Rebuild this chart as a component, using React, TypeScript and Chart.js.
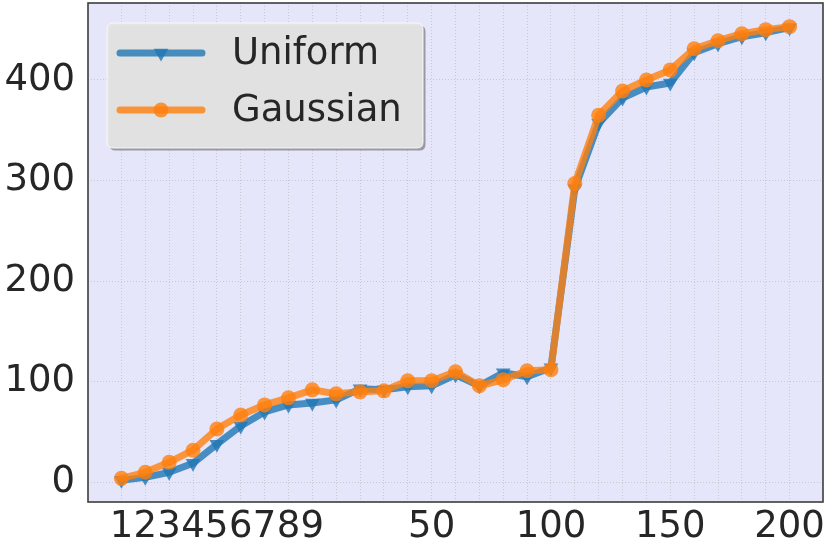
import React, { useEffect, useRef } from 'react';
import { Chart, registerables } from 'chart.js';

Chart.register(...registerables);

// ---- data ----
const categories = ['1', '2', '3', '4', '5', '6', '7', '8', '9', '10', '20', '30', '40', '50', '60', '70', '80', '90', '100', '110', '120', '130', '140', '150', '160', '170', '180', '190', '200'];
const shownTickLabels = ['1', '2', '3', '4', '5', '6', '7', '8', '9', '50', '100', '150', '200'];
const yTickValues = [0, 100, 200, 300, 400];
const seriesNames = ['Uniform', 'Gaussian'];
const uniformValues = [2, 5, 10, 19, 38, 56, 70, 77, 79, 82, 93, 92, 95, 96, 107, 96, 109, 105, 114, 292, 357, 382, 393, 397, 427, 436, 443, 447, 452];
const gaussianValues = [4, 10, 20, 32, 53, 67, 77, 84, 92, 88, 90, 91, 101, 101, 110, 96, 102, 111, 112, 297, 365, 389, 400, 410, 431, 439, 446, 450, 453];

const FONT = "'DejaVu Sans', 'Liberation Sans', sans-serif";
const TEXT = '#262626';
const BLUE = 'rgba(31,119,180,0.8)';
const ORANGE = 'rgba(255,127,14,0.8)';
const GRID = 'rgba(190,190,195,0.75)';

const decorPlugin = {
  id: 'decor',
  beforeDraw(chart: any) {
    const { ctx, chartArea: a } = chart;
    ctx.save();
    ctx.fillStyle = '#E6E6FA';
    ctx.fillRect(a.left, a.top, a.right - a.left, a.bottom - a.top);
    ctx.restore();
  },
  afterDatasetsDraw(chart: any) {
    const { ctx, chartArea: a } = chart;
    ctx.save();
    ctx.strokeStyle = '#3c3c3c';
    ctx.lineWidth = 1.6;
    ctx.strokeRect(a.left, a.top, a.right - a.left, a.bottom - a.top);
    ctx.restore();
  },
  afterDraw(chart: any) {
    const { ctx } = chart;
    const x0 = 107, y0 = 23, w = 316, h = 125, r = 6;
    const rr = (x: number, y: number) => {
      ctx.beginPath();
      ctx.moveTo(x + r, y);
      ctx.lineTo(x + w - r, y);
      ctx.quadraticCurveTo(x + w, y, x + w, y + r);
      ctx.lineTo(x + w, y + h - r);
      ctx.quadraticCurveTo(x + w, y + h, x + w - r, y + h);
      ctx.lineTo(x + r, y + h);
      ctx.quadraticCurveTo(x, y + h, x, y + h - r);
      ctx.lineTo(x, y + r);
      ctx.quadraticCurveTo(x, y, x + r, y);
      ctx.closePath();
    };
    ctx.save();
    rr(x0 + 2.5, y0 + 2.5);
    ctx.fillStyle = 'rgba(90,90,90,0.55)';
    ctx.fill();
    rr(x0, y0);
    ctx.fillStyle = 'rgba(229,229,229,0.95)';
    ctx.fill();
    ctx.strokeStyle = 'rgba(250,250,250,0.9)';
    ctx.lineWidth = 1;
    ctx.stroke();

    const datasets = chart.data.datasets;
    datasets.forEach((ds: any, i: number) => {
      const cy = 53 + i * 57;
      ctx.strokeStyle = ds.borderColor;
      ctx.lineWidth = 7;
      ctx.lineCap = 'round';
      ctx.beginPath();
      ctx.moveTo(120, cy);
      ctx.lineTo(202, cy);
      ctx.stroke();
      ctx.fillStyle = ds.pointBackgroundColor;
      ctx.beginPath();
      if (ds.pointStyle === 'triangle') {
        let rad = Math.PI;
        const R = ds.pointRadius;
        ctx.moveTo(161 + Math.sin(rad) * R, cy - Math.cos(rad) * R);
        rad += (2 * Math.PI) / 3;
        ctx.lineTo(161 + Math.sin(rad) * R, cy - Math.cos(rad) * R);
        rad += (2 * Math.PI) / 3;
        ctx.lineTo(161 + Math.sin(rad) * R, cy - Math.cos(rad) * R);
        ctx.closePath();
      } else {
        ctx.arc(161, cy, ds.pointRadius, 0, Math.PI * 2);
      }
      ctx.fill();
      ctx.fillStyle = TEXT;
      ctx.font = `37px ${FONT}`;
      ctx.textAlign = 'left';
      ctx.textBaseline = 'middle';
      ctx.fillText(ds.label, 232, cy + 1);
    });
    ctx.restore();
  },
};

export default function App() {
  const ref = useRef<HTMLCanvasElement>(null);
  useEffect(() => {
    document.body.style.margin = '0';
    const canvas = ref.current!;
    const chart = new Chart(canvas, {
      type: 'line',
      data: {
        datasets: [
          {
            label: seriesNames[0],
            data: uniformValues.map((v, i) => ({ x: i, y: v })),
            borderColor: BLUE,
            backgroundColor: BLUE,
            pointBackgroundColor: BLUE,
            pointBorderWidth: 0,
            pointStyle: 'triangle',
            pointRotation: 180,
            pointRadius: 8.5,
            borderWidth: 7,
            borderJoinStyle: 'round',
            borderCapStyle: 'round',
            tension: 0,
            order: 1,
          },
          {
            label: seriesNames[1],
            data: gaussianValues.map((v, i) => ({ x: i, y: v })),
            borderColor: ORANGE,
            backgroundColor: ORANGE,
            pointBackgroundColor: ORANGE,
            pointBorderWidth: 0,
            pointStyle: 'circle',
            pointRadius: 7.5,
            borderWidth: 7,
            borderJoinStyle: 'round',
            borderCapStyle: 'round',
            tension: 0,
            order: 0,
          },
        ],
      },
      options: {
        responsive: false,
        animation: false,
        layout: { autoPadding: false, padding: { top: 3, right: 7, left: 0, bottom: 0 } },
        plugins: { legend: { display: false }, tooltip: { enabled: false } },
        scales: {
          x: {
            type: 'linear',
            min: -1.4,
            max: 29.4,
            afterBuildTicks: (axis: any) => {
              axis.ticks = categories.map((_, i) => ({ value: i }));
            },
            afterFit: (axis: any) => {
              axis.height = 52;
              axis.paddingLeft = 0;
              axis.paddingRight = 0;
            },
            grid: {
              color: GRID,
              lineWidth: 1,
              drawTicks: false,
            },
            border: { display: false, dash: [1, 2] },
            ticks: {
              autoSkip: false,
              maxRotation: 0,
              padding: 3,
              color: TEXT,
              font: { family: FONT, size: 37 },
              callback: (v: any) => {
                const lab = categories[Math.round(Number(v))];
                return shownTickLabels.includes(lab) ? lab : '';
              },
            },
          },
          y: {
            type: 'linear',
            min: -19.5,
            max: 476.5,
            afterBuildTicks: (axis: any) => {
              axis.ticks = yTickValues.map((v) => ({ value: v }));
            },
            afterFit: (axis: any) => {
              axis.width = 88;
              axis.paddingTop = 0;
              axis.paddingBottom = 0;
            },
            grid: {
              color: GRID,
              lineWidth: 1,
              drawTicks: false,
            },
            border: { display: false, dash: [1, 2] },
            ticks: {
              padding: 13,
              color: TEXT,
              font: { family: FONT, size: 37 },
            },
          },
        },
      },
      plugins: [decorPlugin],
    } as any);
    return () => chart.destroy();
  }, []);
  return (
    <div style={{ width: 830, height: 554 }}>
      <canvas ref={ref} width={830} height={554} style={{ display: 'block' }} />
    </div>
  );
}
